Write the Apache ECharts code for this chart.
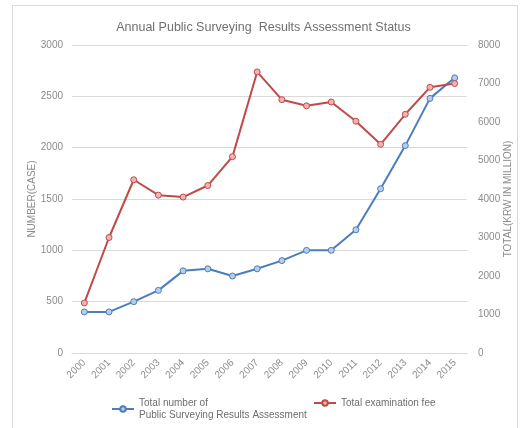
<!DOCTYPE html>
<html>
<head>
<meta charset="utf-8">
<script src="https://cdn.jsdelivr.net/npm/echarts@6/dist/echarts.min.js"></script>
<style>
  html, body { margin: 0; padding: 0; background: #fff; }
  #chart { width: 527px; height: 428px; }
</style>
</head>
<body>
<div id="chart"></div>
<script>
const years = ['2000', '2001', '2002', '2003', '2004', '2005', '2006', '2007',
  '2008', '2009', '2010', '2011', '2012', '2013', '2014', '2015']
// left axis, number of cases
const caseCount = [400, 400, 500, 610, 800, 820, 750, 820, 900, 1000, 1000, 1200, 1600, 2020, 2480, 2680]
// right axis, KRW in million
const examFee = [1300, 3000, 4500, 4100, 4050, 4350, 5100, 7300, 6580, 6420, 6520, 6020, 5420, 6200, 6900, 7000]

const nameCases = 'Total number of Public Surveying Results Assessment'
const nameFee = 'Total examination fee'

const myChart = echarts.init(document.getElementById('chart'))
const grey = '#8c8c8c'
const font = 'Liberation Sans, Arial, sans-serif'
const plain = v => String(v)

const option = {
  backgroundColor: '#fff',
  animation: false,
  title: {
    text: 'Annual Public Surveying  Results Assessment Status',
    left: 'center',
    top: 16,
    textStyle: { fontSize: 12.5, fontWeight: 'normal', color: '#707070', fontFamily: font }
  },
  graphic: [{
    type: 'rect',
    shape: { x: 12.5, y: 5.5, width: 505, height: 440 },
    style: { fill: 'none', stroke: '#d9d9d9', lineWidth: 1 },
    silent: true
  }],
  legend: [
    {
      data: [nameCases],
      left: 106,
      top: 386,
      itemWidth: 22,
      itemHeight: 7,
      formatter: () => 'Total number of\nPublic Surveying Results Assessment',
      textStyle: { fontSize: 10, color: '#6e6e6e', fontFamily: font, lineHeight: 12, padding: [12, 0, 0, 0] }
    },
    {
      data: [nameFee],
      left: 308,
      top: 386,
      itemWidth: 22,
      itemHeight: 7,
      textStyle: { fontSize: 10, color: '#6e6e6e', fontFamily: font, lineHeight: 12, padding: [12, 0, 0, 0] }
    }
  ],
  grid: {
    left: 72,
    right: 60,
    top: 45,
    bottom: 75,
    containLabel: false
  },
  xAxis: {
    type: 'category',
    data: years,
    axisTick: { show: false },
    axisLine: { lineStyle: { color: '#d9d9d9' } },
    axisLabel: { rotate: 45, color: grey, fontSize: 10, fontFamily: font, margin: 8 }
  },
  yAxis: [
    {
      type: 'value',
      min: 0,
      max: 3000,
      interval: 500,
      name: 'NUMBER(CASE)',
      nameLocation: 'middle',
      nameGap: 35,
      nameMoveOverlap: false,
      nameTextStyle: { color: grey, fontSize: 10, fontFamily: font },
      axisLabel: { color: grey, fontSize: 10, fontFamily: font, margin: 9, formatter: plain },
      axisLine: { show: false },
      splitLine: { lineStyle: { color: '#d9d9d9' } }
    },
    {
      type: 'value',
      min: 0,
      max: 8000,
      interval: 1000,
      name: 'TOTAL(KRW IN MILLION)',
      nameLocation: 'middle',
      nameGap: 36,
      nameMoveOverlap: false,
      nameTextStyle: { color: grey, fontSize: 10, fontFamily: font },
      axisLabel: { color: grey, fontSize: 10, fontFamily: font, margin: 11, formatter: plain },
      axisLine: { show: false },
      splitLine: { show: false }
    }
  ],
  series: [
    {
      name: nameCases,
      type: 'line',
      yAxisIndex: 0,
      data: caseCount,
      symbol: 'circle',
      symbolSize: 6,
      lineStyle: { color: '#4a7ebb', width: 2 },
      itemStyle: { color: '#b9cdea', borderColor: '#4a7ebb', borderWidth: 1 }
    },
    {
      name: nameFee,
      type: 'line',
      yAxisIndex: 1,
      data: examFee,
      symbol: 'circle',
      symbolSize: 6,
      lineStyle: { color: '#be4b48', width: 2 },
      itemStyle: { color: '#f0b3b2', borderColor: '#be4b48', borderWidth: 1 }
    }
  ]
}

myChart.setOption(option)
window.addEventListener('resize', function() {
  myChart.resize()
})
</script>
</body>
</html>
